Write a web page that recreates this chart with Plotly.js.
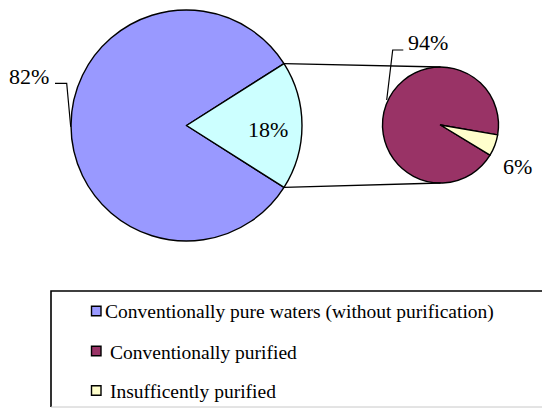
<!DOCTYPE html>
<html>
<head>
<meta charset="utf-8">
<script src="https://cdn.plot.ly/plotly-3.0.1.min.js"></script>
<style>html,body{margin:0;padding:0;background:#fff;}#chart{width:542px;height:410px;}</style>
</head>
<body>
<div id="chart"></div>
<script>
// ---- data ----
var mainLabels = ['Conventionally pure waters (without purification)', 'Purified (split)'];
var mainValues = [82, 18];
var mainColors = ['#9999FF', '#CCFFFF'];

var subLabels = ['Conventionally purified', 'Insufficently purified'];
var subValues = [94, 6];
var subColors = ['#993366', '#FFFFCC'];

var legendLabels = ['Conventionally pure waters (without purification)', 'Conventionally purified', 'Insufficently purified'];
var legendColors = ['#9999FF', '#993366', '#FFFFCC'];

// ---- geometry (pixels) ----
var W = 542, H = 410;
function X(px){ return px / W; }
function Y(py){ return 1 - py / H; }

var mainC = {x: 186.5, y: 125.5, r: 115.5};
var subC = {x: 440.5, y: 125, r: 58};

var mainTotal = mainValues[0] + mainValues[1];
var halfAng = (mainValues[1] / mainTotal) * 180; // degrees
var subTotal = subValues[0] + subValues[1];
var yellowMid = 110.6; // compass degrees of small slice centre
var subRotation = yellowMid + (subValues[1] / subTotal) * 180;

var traces = [
  {
    type: 'pie', labels: mainLabels, values: mainValues, sort: false,
    direction: 'clockwise', rotation: 90 + halfAng,
    marker: {colors: mainColors, line: {color: '#000', width: 1.4}},
    textinfo: 'none', hoverinfo: 'label+percent', showlegend: false,
    domain: {x: [X(mainC.x - mainC.r), X(mainC.x + mainC.r)], y: [Y(mainC.y + mainC.r), Y(mainC.y - mainC.r)]}
  },
  {
    type: 'pie', labels: subLabels, values: subValues, sort: false,
    direction: 'clockwise', rotation: subRotation,
    marker: {colors: subColors, line: {color: '#000', width: 1.4}},
    textinfo: 'none', hoverinfo: 'label+percent', showlegend: false,
    domain: {x: [X(subC.x - subC.r), X(subC.x + subC.r)], y: [Y(subC.y + subC.r), Y(subC.y - subC.r)]}
  }
];

var rad = halfAng * Math.PI / 180;
var eTop = {x: mainC.x + mainC.r * Math.cos(rad), y: mainC.y - mainC.r * Math.sin(rad)};
var eBot = {x: mainC.x + mainC.r * Math.cos(rad), y: mainC.y + mainC.r * Math.sin(rad)};

function line(x0, y0, x1, y1, w, c){
  return {type: 'line', xref: 'paper', yref: 'paper', x0: X(x0), y0: Y(y0), x1: X(x1), y1: Y(y1),
          line: {color: c || '#000', width: w || 1.4}};
}
function path(pts, w){
  var d = pts.map(function(p, i){ return (i ? 'L' : 'M') + X(p[0]) + ',' + Y(p[1]); }).join(' ');
  return {type: 'path', xref: 'paper', yref: 'paper', path: d, line: {color: '#000', width: w || 1.2}};
}

var shapes = [
  line(eTop.x, eTop.y, subC.x, subC.y - subC.r, 1.4),
  line(eBot.x, eBot.y, subC.x, subC.y + subC.r, 1.4),
  path([[55, 83.3], [66.7, 83.3], [70.7, 126.7]], 1.2),
  path([[403.3, 50], [392.7, 50], [386.7, 100]], 1.2),
  // legend box
  path([[51, 407], [51, 291], [545, 291]], 1.6),
  line(51, 407, 545, 407, 1, '#c8c8c8')
];

var fontLbl = {family: 'Liberation Serif, Times New Roman, serif', size: 22, color: '#000'};
function ann(text, x, y, xa, font){
  return {text: text, xref: 'paper', yref: 'paper', x: X(x), y: Y(y), xanchor: xa || 'center', yanchor: 'middle',
          showarrow: false, font: font || fontLbl};
}
var annotations = [
  ann(mainValues[0] + '%', 28.5, 77),
  ann(mainValues[1] + '%', 267.5, 129),
  ann(subValues[0] + '%', 428, 43),
  ann(subValues[1] + '%', 517.5, 166.5)
];

var legY = [311, 351, 390.5];
var legTextX = [103, 107.5, 107.5];
var fontLeg = {family: 'Liberation Serif, Times New Roman, serif', size: 19.5, color: '#000'};
for (var i = 0; i < legendLabels.length; i++){
  shapes.push({type: 'rect', xref: 'paper', yref: 'paper',
    x0: X(91.5), x1: X(101), y0: Y(legY[i] + 4.8), y1: Y(legY[i] - 4.8),
    fillcolor: legendColors[i], line: {color: '#000', width: 1.4}});
  annotations.push(ann(legendLabels[i], legTextX[i], legY[i] + 1, 'left', fontLeg));
}

var layout = {
  width: W, height: H, margin: {l: 0, r: 0, t: 0, b: 0, pad: 0},
  paper_bgcolor: '#fff', plot_bgcolor: '#fff', showlegend: false,
  shapes: shapes, annotations: annotations
};
Plotly.newPlot('chart', traces, layout, {displayModeBar: false, staticPlot: true});
</script>
</body>
</html>
